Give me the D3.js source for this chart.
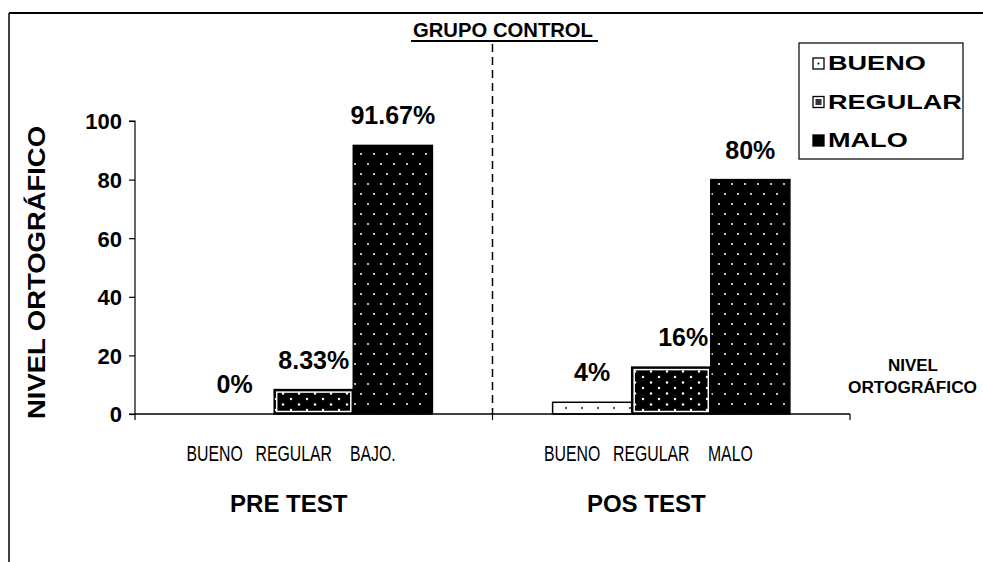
<!DOCTYPE html>
<html>
<head>
<meta charset="utf-8">
<script src="https://cdn.jsdelivr.net/npm/d3@7"></script>
<style>
  body { margin: 0; background: #fff; }
  svg { display: block; }
  .tick text { font-family: Arial, "Liberation Sans", sans-serif; font-weight: bold; font-size: 22px; }
  .reg { font-family: Arial, "Liberation Sans", sans-serif; }
  .bold { font-family: Arial, "Liberation Sans", sans-serif; font-weight: bold; }
</style>
</head>
<body>
<div id="chart"></div>
<script>
(function () {
    var width = 983, height = 562;

    // data
    var groups = ["PRE TEST", "POS TEST"];
    var levels = ["BUENO", "REGULAR", "MALO"];
    var preCats = ["BUENO", "REGULAR", "BAJO."];
    var posCats = ["BUENO", "REGULAR", "MALO"];
    var preValues = [0, 8.33, 91.67];
    var posValues = [4, 16, 80];
    var preLabels = ["0%", "8.33%", "91.67%"];
    var posLabels = ["4%", "16%", "80%"];
    var yTicks = [0, 20, 40, 60, 80, 100];

    var cats = [preCats, posCats], vals = [preValues, posValues], labs = [preLabels, posLabels];
    var bars = [];
    groups.forEach(function (g, gi) {
        vals[gi].forEach(function (v, i) {
            bars.push({group: g, idx: i, level: levels[i], cat: cats[gi][i], value: v, label: labs[gi][i]});
        });
    });

    var svg = d3.select("#chart").append("svg")
        .attr("width", width).attr("height", height);

    // patterns
    var defs = svg.append("defs");
    var pm = defs.append("pattern").attr("id", "p-malo").attr("patternUnits", "userSpaceOnUse")
        .attr("width", 26).attr("height", 20);
    pm.append("rect").attr("width", 26).attr("height", 20).attr("fill", "#000");
    [[4, 4], [17, 4], [10, 14], [23, 14]].forEach(function (p) {
        pm.append("circle").attr("cx", p[0]).attr("cy", p[1]).attr("r", 1).attr("fill", "#fff");
    });

    var pr = defs.append("pattern").attr("id", "p-regular").attr("patternUnits", "userSpaceOnUse")
        .attr("width", 16).attr("height", 11);
    pr.append("rect").attr("width", 16).attr("height", 11).attr("fill", "#000");
    pr.append("circle").attr("cx", 3).attr("cy", 3).attr("r", 1.2).attr("fill", "#fff");
    pr.append("circle").attr("cx", 11).attr("cy", 8.5).attr("r", 1.2).attr("fill", "#fff");

    var pb = defs.append("pattern").attr("id", "p-bueno").attr("patternUnits", "userSpaceOnUse")
        .attr("width", 16).attr("height", 10);
    pb.append("rect").attr("width", 16).attr("height", 10).attr("fill", "#fff");
    pb.append("circle").attr("cx", 6).attr("cy", 8).attr("r", 0.9).attr("fill", "#000");

    var fills = {BUENO: "url(#p-bueno)", REGULAR: "url(#p-regular)", MALO: "url(#p-malo)"};

    // outer frame
    svg.append("line").attr("x1", 9).attr("x2", width).attr("y1", 13).attr("y2", 13)
        .attr("stroke", "#000").attr("stroke-width", 2);
    svg.append("line").attr("x1", 9).attr("x2", 9).attr("y1", 13).attr("y2", height)
        .attr("stroke", "#000").attr("stroke-width", 1.5);

    // scales
    var x0 = d3.scaleBand().domain(groups).range([135, 850]);
    var x1 = d3.scaleBand().domain([0, 1, 2]).range([0, x0.bandwidth()]).paddingOuter(0.76);
    var y = d3.scaleLinear().domain([0, 100]).range([414, 121]);
    var cx = function (d) { return x0(d.group) + x1(d.idx) + x1.bandwidth() / 2; };

    // dashed divider
    svg.append("line")
        .attr("x1", x0("POS TEST")).attr("x2", x0("POS TEST"))
        .attr("y1", 44).attr("y2", y(0))
        .attr("stroke", "#000").attr("stroke-width", 1.5).attr("stroke-dasharray", "8,5");

    // bars
    svg.selectAll(".bar")
        .data(bars)
        .enter().append("rect")
        .attr("class", "bar")
        .attr("x", function (d) { return x0(d.group) + x1(d.idx); })
        .attr("y", function (d) { return y(d.value); })
        .attr("width", x1.bandwidth())
        .attr("height", function (d) { return y(0) - y(d.value); })
        .attr("fill", function (d) { return fills[d.level]; })
        .attr("stroke", "#000")
        .attr("stroke-width", function (d) { return d.value > 0 ? 1.5 : 0; });

    // white inner border on REGULAR bars
    svg.selectAll(".inner")
        .data(bars.filter(function (d) { return d.level == "REGULAR"; }))
        .enter().append("rect")
        .attr("x", function (d) { return x0(d.group) + x1(d.idx) + 2.5; })
        .attr("y", function (d) { return y(d.value) + 2.5; })
        .attr("width", x1.bandwidth() - 5)
        .attr("height", function (d) { return y(0) - y(d.value) - 5; })
        .attr("fill", "none").attr("stroke", "#fff").attr("stroke-width", 1.5);

    // value labels
    svg.selectAll(".vlab")
        .data(bars)
        .enter().append("text")
        .attr("class", "bold")
        .attr("x", function (d) { return cx(d) + (d.level == "REGULAR" && d.group == "POS TEST" ? 12 : 0); })
        .attr("y", function (d) { return y(d.value) - 21; })
        .attr("text-anchor", "middle")
        .style("font-size", "25px")
        .text(function (d) { return d.label; });

    // axes
    svg.append("g")
        .attr("transform", "translate(135,0)")
        .call(d3.axisLeft(y).tickValues(yTicks).tickSize(6).tickPadding(7))
        .call(function (g) { g.selectAll("path, line").attr("stroke", "#000").attr("stroke-width", 1.2); })
        .call(function (g) { g.selectAll(".tick text").attr("dy", "0.36em"); })
        .call(function (g) { g.select(".domain").attr("d", "M-6," + y(100) + "H0V" + y(0) + "H-6"); });

    svg.append("line").attr("x1", 135).attr("x2", 850).attr("y1", y(0)).attr("y2", y(0))
        .attr("stroke", "#000").attr("stroke-width", 1.5);
    [135, x0("POS TEST"), 850].forEach(function (t) {
        svg.append("line").attr("x1", t).attr("x2", t).attr("y1", y(0)).attr("y2", y(0) + 6)
            .attr("stroke", "#000").attr("stroke-width", 1.2);
    });

    // category labels (narrow face, faked with a horizontal squeeze)
    svg.selectAll(".clab")
        .data(bars)
        .enter().append("text")
        .attr("class", "reg")
        .attr("transform", function (d) { return "translate(" + (cx(d) - 20) + ",461) scale(0.72,1)"; })
        .attr("text-anchor", "middle")
        .style("font-size", "22px")
        .text(function (d) { return d.cat; });

    // group labels
    svg.selectAll(".glab")
        .data(groups)
        .enter().append("text")
        .attr("class", "bold")
        .attr("x", function (d) { return x0(d) + x0.bandwidth() / 2 - 25; })
        .attr("y", 512)
        .attr("text-anchor", "middle")
        .style("font-size", "24px")
        .text(function (d) { return d; });

    // title
    svg.append("text").attr("class", "bold")
        .attr("x", 413).attr("y", 37)
        .attr("textLength", 180).attr("lengthAdjust", "spacingAndGlyphs")
        .style("font-size", "20px")
        .text("GRUPO CONTROL");
    svg.append("line").attr("x1", 411).attr("x2", 598).attr("y1", 41).attr("y2", 41)
        .attr("stroke", "#000").attr("stroke-width", 2);

    // y label
    svg.append("text").attr("class", "bold")
        .attr("transform", "translate(45,419) rotate(-90)")
        .attr("textLength", 293).attr("lengthAdjust", "spacingAndGlyphs")
        .style("font-size", "23px")
        .text("NIVEL ORTOGRÁFICO");

    // right axis label
    svg.append("text").attr("class", "bold")
        .attr("x", 888).attr("y", 371)
        .attr("textLength", 50).attr("lengthAdjust", "spacingAndGlyphs")
        .style("font-size", "16px").text("NIVEL");
    svg.append("text").attr("class", "bold")
        .attr("x", 848).attr("y", 393)
        .attr("textLength", 129).attr("lengthAdjust", "spacingAndGlyphs")
        .style("font-size", "16px").text("ORTOGRÁFICO");

    // legend
    var lg = svg.append("g").attr("transform", "translate(799,43)");
    lg.append("rect").attr("width", 164).attr("height", 116)
        .attr("fill", "#fff").attr("stroke", "#000").attr("stroke-width", 1.2);
    var li = lg.selectAll(".li").data(levels).enter().append("g")
        .attr("transform", function (d, i) { return "translate(14," + (27 + i * 38.5) + ")"; });
    li.append("rect").attr("x", 0).attr("y", -12).attr("width", 11).attr("height", 11)
        .attr("fill", function (d) { return d == "MALO" ? "#000" : "#fff"; })
        .attr("stroke", "#000").attr("stroke-width", 1.3);
    li.filter(function (d) { return d == "REGULAR"; }).append("rect")
        .attr("x", 2.5).attr("y", -9.5).attr("width", 6).attr("height", 6).attr("fill", "#333");
    li.filter(function (d) { return d == "BUENO"; }).append("circle")
        .attr("cx", 5.5).attr("cy", -6.5).attr("r", 1).attr("fill", "#000");
    li.append("text").attr("class", "bold")
        .attr("transform", "translate(15,0) scale(1.29,1)")
        .style("font-size", "21px")
        .text(function (d) { return d; });
})();
</script>
</body>
</html>
